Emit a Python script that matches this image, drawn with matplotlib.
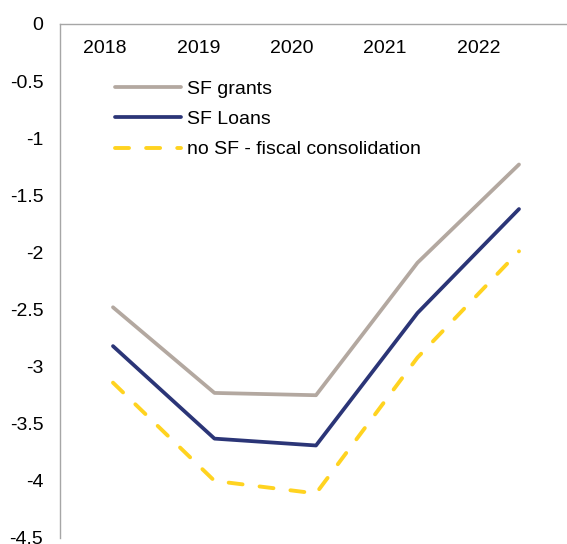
import matplotlib
matplotlib.use("Agg")
import matplotlib.pyplot as plt

plt.rcParams['font.family'] = ['Liberation Sans', 'DejaVu Sans']

years = ["2018", "2019", "2020", "2021", "2022"]
sf_grants = [-2.48, -3.23, -3.25, -2.09, -1.23]
sf_loans = [-2.82, -3.63, -3.69, -2.53, -1.62]
no_sf = [-3.14, -4.00, -4.11, -2.92, -1.99]
yticks = [0, -0.5, -1, -1.5, -2, -2.5, -3, -3.5, -4, -4.5]
ytick_labels = ["0", "-0.5", "-1", "-1.5", "-2", "-2.5", "-3", "-3.5", "-4", "-4.5"]

W, H = 567, 544
fig = plt.figure(figsize=(W / 100, H / 100), dpi=100)
ax = fig.add_axes([60 / W, (H - 538) / H, (W - 60) / W, (538 - 24) / H])

x = list(range(len(years)))
ax.plot(x, sf_grants, color="#B3A8A0", lw=2.7, label="SF grants", solid_capstyle="round")
ax.plot(x, sf_loans, color="#2B3577", lw=2.7, label="SF Loans", solid_capstyle="round")
ax.plot(x, no_sf, color="#FFD320", lw=2.8, ls=(0, (3.6, 4.4)), dash_capstyle="round",
        label="no SF - fiscal consolidation")

ax.set_xlim(-0.522, 4.473)
ax.set_ylim(-4.5, 0)
ax.set_yticks(yticks)
ax.set_yticklabels(ytick_labels)
ax.tick_params(axis="y", length=0, pad=12, labelsize=14)
ax.set_xticks([])

for s in ["right", "bottom"]:
    ax.spines[s].set_visible(False)
for s in ["left", "top"]:
    ax.spines[s].set_color("#A6A6A6")
    ax.spines[s].set_linewidth(1.0)

# year labels on a twin axis
ax2 = ax.twiny()
ax2.set_xlim(-0.478, 4.944)
ax2.set_xticks(x)
ax2.set_xticklabels(years)
ax2.tick_params(axis="x", length=0, pad=-24, labelsize=14)
for s in ax2.spines.values():
    s.set_visible(False)

leg = ax.legend(loc="upper left", bbox_to_anchor=(115 / W, 1 - 80 / H),
                bbox_transform=fig.transFigure, frameon=False, fontsize=14,
                handlelength=3.4, handletextpad=0.3, labelspacing=0.66,
                borderpad=0, borderaxespad=0)

fig.savefig("out.png", dpi=100)
